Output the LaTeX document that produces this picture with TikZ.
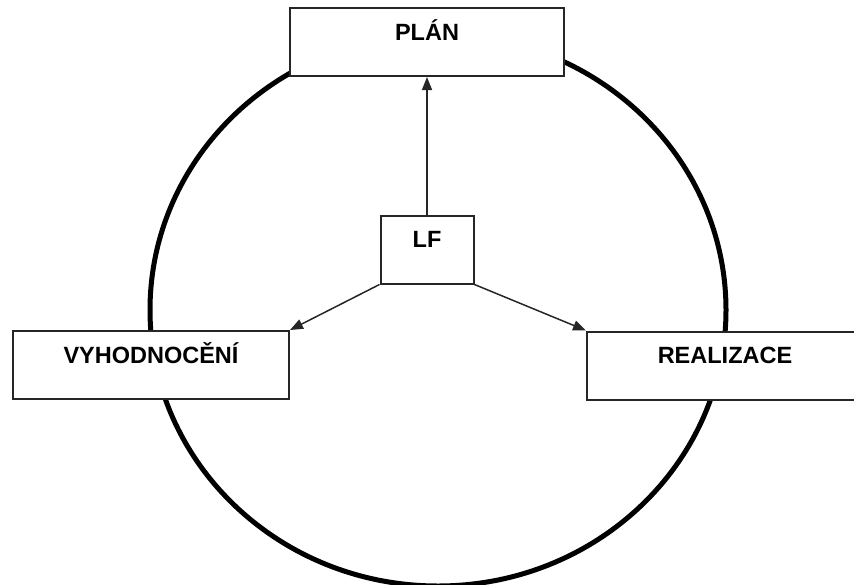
\documentclass[tikz,border=0pt]{standalone}
\usepackage{fontspec}
\setmainfont{Liberation Sans}
\usetikzlibrary{arrows.meta}

\begin{document}
\begin{tikzpicture}[x=1pt, y=-1pt,
    stage/.style={rectangle, draw=black!85, line width=2pt, fill=white,
      minimum height=68pt, inner sep=0pt, text height=16pt, text depth=20pt,
      font=\bfseries\fontsize{23.5}{27}\selectfont},
    link/.style={->, line width=1.5pt, draw=black!85},
    >={Triangle[length=13pt,width=10pt]}]

  \useasboundingbox (0,0) rectangle (854,584);
  \draw[line width=5pt] (438,310) ellipse [x radius=288pt, y radius=276pt];

  \node[stage, minimum width=274pt] (plan) at (427,42) {PLÁN};
  \node[stage, minimum width=93pt] (lf) at (427,249.5) {LF};
  \node[stage, minimum width=276pt] (vyh) at (151,365) {VYHODNOCĚNÍ};
  \node[stage, minimum width=276pt] (real) at (725,365.5) {REALIZACE};

  \draw[link] (lf.north) -- (plan.south);
  \draw[link] (lf.south west) -- (vyh.north east);
  \draw[link] (lf.south east) -- (real.north west);
\end{tikzpicture}
\end{document}
